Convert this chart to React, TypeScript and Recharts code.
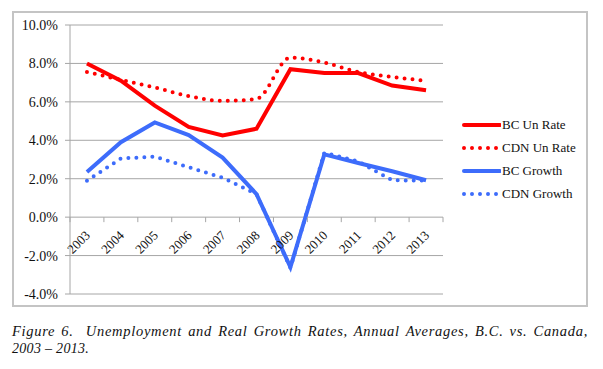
import { LineChart, Line, XAxis, YAxis, CartesianGrid } from "recharts";

const years = ["2003", "2004", "2005", "2006", "2007", "2008", "2009", "2010", "2011", "2012", "2013"];
const bcUnRate = [8.0, 7.1, 5.8, 4.7, 4.25, 4.6, 7.7, 7.5, 7.5, 6.85, 6.6];
const cdnUnRate = [7.55, 7.15, 6.75, 6.3, 6.05, 6.15, 8.3, 8.05, 7.55, 7.3, 7.1];
const bcGrowth = [2.35, 3.9, 4.93, 4.27, 3.1, 1.2, -2.6, 3.27, 2.82, 2.39, 1.92];
const cdnGrowth = [1.9, 3.05, 3.15, 2.6, 2.05, 1.2, -2.65, 3.35, 2.9, 1.92, 1.9];
const yTicks = [-4, -2, 0, 2, 4, 6, 8, 10];

const RED = "#ff0000";
const BLUE = "#3d6cfb";
const GRID = "#a6a6a6";
const FONT = "'Liberation Serif', 'Times New Roman', serif";

const CHART_W = 572;
const CHART_H = 292;
const MARGIN = { top: 12, right: 143, bottom: 0, left: 0 };
const Y_AXIS_W = 56;
const X_AXIS_H = 11;
const PLOT_W = CHART_W - MARGIN.left - MARGIN.right - Y_AXIS_W;
const PLOT_H = CHART_H - MARGIN.top - MARGIN.bottom - X_AXIS_H;
const BAND = PLOT_W / years.length;
// x axis crosses the value axis at 0
const ZERO_Y = MARGIN.top + (PLOT_H * 10) / 14;

const data = years.map((year, i) => ({
  year,
  bcUn: bcUnRate[i],
  cdnUn: cdnUnRate[i],
  bcGr: bcGrowth[i],
  cdnGr: cdnGrowth[i],
}));

const legendItems = [
  { label: "BC Un Rate", color: RED, dotted: false },
  { label: "CDN Un Rate", color: RED, dotted: true },
  { label: "BC Growth", color: BLUE, dotted: false },
  { label: "CDN Growth", color: BLUE, dotted: true },
];

// eslint-disable-next-line @typescript-eslint/no-explicit-any
function YearTick({ x, payload, index }: any) {
  const lx = x + 4;
  const ly = ZERO_Y + 19;
  return (
    <g>
      <line x1={x - BAND / 2} x2={x - BAND / 2} y1={ZERO_Y} y2={ZERO_Y + 5} stroke={GRID} />
      {index === years.length - 1 && (
        <line x1={x + BAND / 2} x2={x + BAND / 2} y1={ZERO_Y} y2={ZERO_Y + 5} stroke={GRID} />
      )}
      <text
        x={lx}
        y={ly}
        textAnchor="end"
        fontSize={13}
        fontFamily={FONT}
        fill="#111"
        transform={`rotate(-45 ${lx} ${ly})`}
      >
        {payload.value}
      </text>
    </g>
  );
}

function Legend() {
  return (
    <div style={{ position: "absolute", left: 448, top: 100, fontFamily: FONT, fontSize: 13, color: "#111" }}>
      {legendItems.map((item) => (
        <div key={item.label} style={{ display: "flex", alignItems: "center", height: 23 }}>
          <svg width={39} height={8} style={{ marginRight: 1 }}>
            <line
              x1={2}
              x2={item.dotted ? 36 : 38}
              y1={4}
              y2={4}
              stroke={item.color}
              strokeWidth={4}
              strokeDasharray={item.dotted ? "0 8" : undefined}
              strokeLinecap="round"
            />
          </svg>
          <span>{item.label}</span>
        </div>
      ))}
    </div>
  );
}

export default function App() {
  return (
    <div style={{ position: "relative", width: 603, height: 369 }}>
      <div
        style={{
          position: "absolute",
          left: 4,
          top: 3,
          width: 576,
          height: 296,
          boxSizing: "border-box",
          border: "2px solid #c4c4c4",
          background: "#fff",
        }}
      >
        <LineChart width={CHART_W} height={CHART_H} data={data} margin={MARGIN}>
          <CartesianGrid vertical={false} stroke={GRID} />
          <XAxis
            dataKey="year"
            axisLine={false}
            tickLine={false}
            interval={0}
            height={X_AXIS_H}
            padding={{ left: BAND / 2, right: BAND / 2 }}
            tick={<YearTick />}
          />
          <YAxis
            domain={[-4, 10]}
            ticks={yTicks}
            width={Y_AXIS_W}
            tickFormatter={(v: number) => `${v.toFixed(1)}%`}
            axisLine={{ stroke: GRID }}
            tickLine={{ stroke: GRID }}
            tickSize={5}
            tickMargin={7}
            tick={{ fontSize: 14, fontFamily: FONT, fill: "#111" }}
          />
          <Line dataKey="bcUn" stroke={RED} strokeWidth={4} dot={false} isAnimationActive={false} />
          <Line
            dataKey="cdnUn"
            type="monotone"
            stroke={RED}
            strokeWidth={4}
            strokeDasharray="0 8"
            strokeLinecap="round"
            dot={false}
            isAnimationActive={false}
          />
          <Line dataKey="bcGr" stroke={BLUE} strokeWidth={4} dot={false} isAnimationActive={false} />
          <Line
            dataKey="cdnGr"
            stroke={BLUE}
            strokeWidth={4}
            strokeDasharray="0 8"
            strokeLinecap="round"
            dot={false}
            isAnimationActive={false}
          />
        </LineChart>
        <Legend />
      </div>
      <div
        style={{
          position: "absolute",
          left: 4,
          top: 314,
          width: 576,
          fontFamily: FONT,
          fontStyle: "italic",
          fontSize: 14.5,
          lineHeight: "18px",
          color: "#111",
        }}
      >
        <div style={{ textAlign: "justify", textAlignLast: "justify", letterSpacing: 0.7 }}>
          Figure 6.{"\u00a0\u00a0"}Unemployment and Real Growth Rates, Annual Averages, B.C. vs. Canada,
        </div>
        <div style={{ fontSize: 14, letterSpacing: 0.3 }}>2003 – 2013.</div>
      </div>
    </div>
  );
}
